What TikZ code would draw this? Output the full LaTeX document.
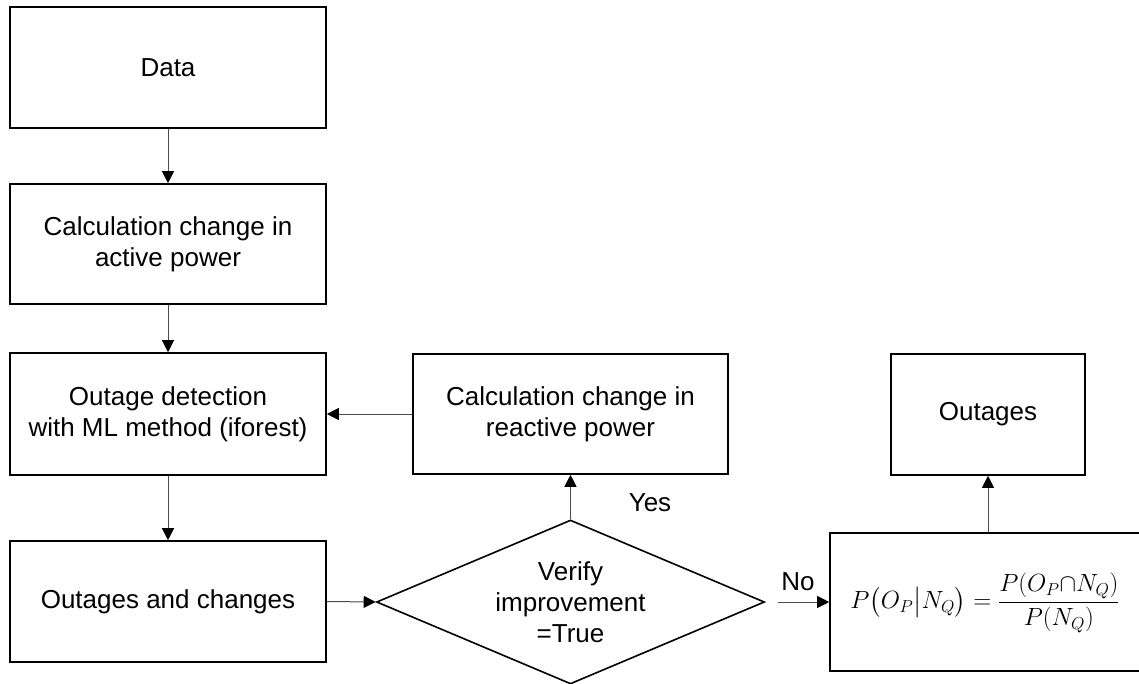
\documentclass[tikz,border=0pt]{standalone}
\usepackage[no-math]{fontspec}
\setmainfont{Liberation Sans}
\usepackage{amsmath}
\usetikzlibrary{arrows.meta,shapes.geometric,calc}

\begin{document}
\begin{tikzpicture}[x=1pt,y=-1pt,
  every node/.style={font=\fontsize{26}{31}\selectfont},
  boxnode/.style={draw=black,line width=1.6pt,rectangle,inner sep=0pt,
    minimum width=316pt,align=center},
  decision/.style={draw=black,line width=1.6pt,diamond,inner sep=0pt,
    minimum width=388pt,minimum height=164pt},
  conn/.style={draw=black!70,line width=1pt,
    -{Triangle[length=12pt,width=12pt,color=black]}},
  tag/.style={inner sep=0pt}]

\useasboundingbox (0,0) rectangle (1139,683);

% main column
\node[boxnode,minimum height=121pt] (data) at (168,67.5) {Data};
\node[boxnode,minimum height=120pt] (calcA) at (168,244) {Calculation change in\\active power};
\node[boxnode,minimum height=122pt] (detect) at (168,414) {Outage detection\\with ML method (iforest)};
\node[boxnode,minimum height=121pt] (changes) at (168,601.5) {Outages and changes};

% feedback branch
\node[boxnode,minimum width=315pt,minimum height=120pt] (calcR) at (570.5,414) {Calculation change in\\reactive power};
\node[decision] (verify) at (570.5,602) {};
\node[align=center,inner sep=0pt] (verifyTxt) at (570.5,602) {Verify\\improvement\\=True};

% result branch
\node[boxnode,minimum height=138pt] (bayes) at (988,602) {};
\node[inner sep=0pt] (bayesTxt) at (985,603)
  {\fontsize{26}{31}\selectfont$\displaystyle P\bigl(O_P\big|N_Q\bigr)=\frac{P(O_P{\cap}N_Q)}{P(N_Q)}$};
\node[boxnode,minimum width=194pt,minimum height=121pt] (outages) at (988,414.5) {Outages};

\coordinate (noStart) at (778,602);

% connectors
\draw[conn] (data.south) -- (calcA.north);
\draw[conn] (calcA.south) -- (detect.north);
\draw[conn] (detect.south) -- (changes.north);
\draw[conn] (changes.east) -- (verify.west);
\draw[conn] (verify.north) -- (calcR.south);
\draw[conn] (calcR.west) -- (detect.east);
\draw[conn] (noStart) -- (bayes.west);
\draw[conn] (bayes.north) -- (outages.south);

% branch labels
\node[tag] (yes) at (650,503) {Yes};
\node[tag] (no) at (798,582) {No};
\end{tikzpicture}
\end{document}
